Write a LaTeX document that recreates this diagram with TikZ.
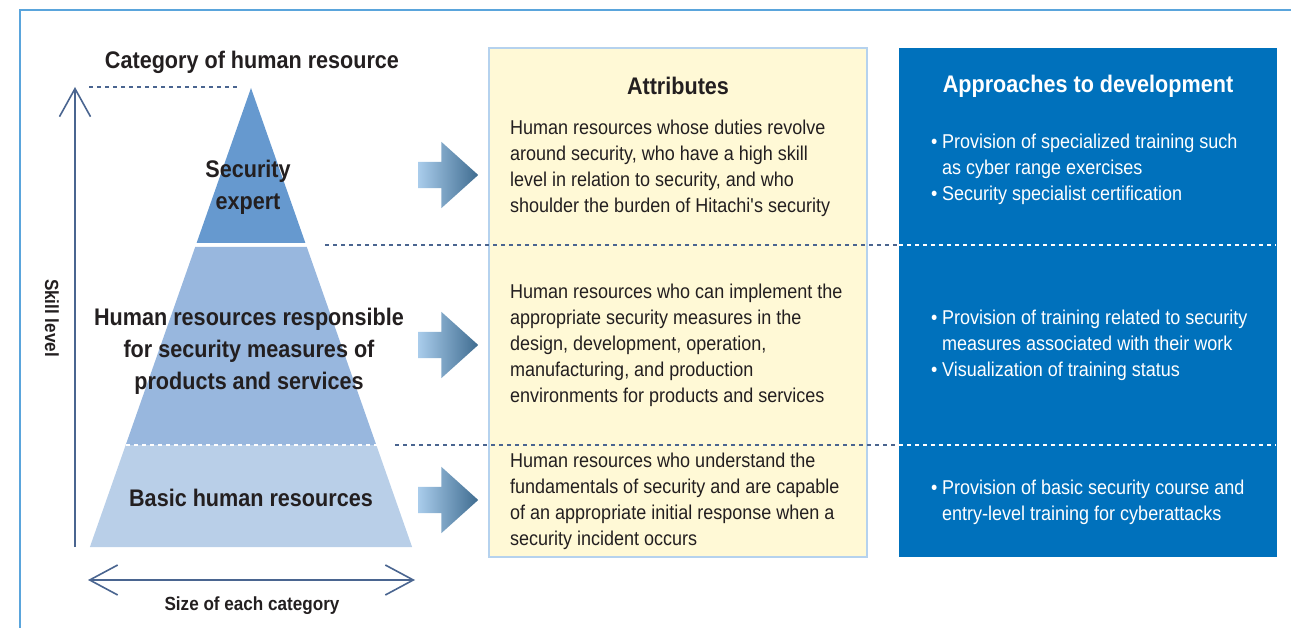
\documentclass[tikz,border=0pt]{standalone}
\usepackage{fontspec}
\setmainfont[FakeStretch=0.9]{Liberation Sans}
\usetikzlibrary{shapes.arrows,arrows.meta}

\definecolor{frameblue}{HTML}{5AA5DC}
\definecolor{tierA}{HTML}{6699CF}
\definecolor{tierB}{HTML}{98B7DE}
\definecolor{tierC}{HTML}{B9CFE8}
\definecolor{paleyellow}{HTML}{FFF9D6}
\definecolor{edgeblue}{HTML}{B5D2EE}
\definecolor{deepblue}{HTML}{0071BC}
\definecolor{linegray}{HTML}{4A6590}
\definecolor{inkdark}{HTML}{231F20}
\definecolor{arrowlight}{HTML}{A9CCEB}
\definecolor{arrowdark}{HTML}{3F6C90}

\newcommand\itembul{\makebox[11pt][l]{\textbullet}}

\tikzset{
  heading/.style={font=\bfseries\fontsize{24}{28}\selectfont, text=inkdark, inner sep=0pt},
  tierlabel/.style={font=\bfseries\fontsize{24}{32}\selectfont, text=inkdark, align=center, inner sep=0pt},
  axislabel/.style={font=\bfseries\fontsize{19}{22}\selectfont, text=inkdark, inner sep=0pt},
  attrtext/.style={font=\fontsize{20}{26}\selectfont, text=inkdark, align=left, anchor=north west, inner sep=0pt},
  approtext/.style={attrtext, text=white},
  attrbox/.style={draw=edgeblue, line width=2pt, fill=paleyellow, minimum width=378pt, minimum height=509pt, inner sep=0pt},
  approbox/.style={fill=deepblue, minimum width=378pt, minimum height=509pt, inner sep=0pt},
  blockarrow/.style={single arrow, left color=arrowlight, right color=arrowdark, draw=none,
    inner xsep=0pt, inner ysep=13pt, minimum height=60pt, anchor=tail,
    single arrow head extend=20pt, single arrow tip angle=84, single arrow head indent=0pt},
  axisline/.style={draw=linegray, line width=1.6pt},
  sepline/.style={draw=linegray, line width=2pt, dash pattern=on 4pt off 4pt},
  sepwhite/.style={sepline, draw=white},
  frameline/.style={draw=frameblue, line width=1.3pt}
}

\begin{document}
\begin{tikzpicture}[x=1pt,y=-1pt]
  \useasboundingbox (0,0) rectangle (1291,628);
  \draw[frameline] (1291,10) -- (20,10) -- (20,628);

  % columns
  \node[attrbox] (attrbox) at (678,302.5) {};
  \node[approbox] (approbox) at (1088,302.5) {};

  % pyramid
  \fill[tierA] (251,88) -- (305.4,243) -- (196.6,243) -- cycle;
  \fill[tierB] (195.2,247) -- (306.8,247) -- (376.3,445) -- (125.7,445) -- cycle;
  \fill[tierC] (125.7,445) -- (376.3,445) -- (412.1,547) -- (89.9,547) -- cycle;
  \draw[sepwhite] (126,445) -- (380,445);

  % separators
  \coordinate (topL) at (89,87);
  \coordinate (topR) at (240,87);
  \coordinate (sepAL) at (325,245);
  \coordinate (sepAM) at (899,245);
  \coordinate (sepAR) at (1276,245);
  \coordinate (sepBL) at (395,445);
  \coordinate (sepBM) at (899,445);
  \coordinate (sepBR) at (1276,445);
  \draw[sepline] (topL) -- (topR);
  \draw[sepline] (sepAL) -- (sepAM);
  \draw[sepwhite] (sepAM) -- (sepAR);
  \draw[sepline] (sepBL) -- (sepBM);
  \draw[sepwhite] (sepBM) -- (sepBR);

  % axes
  \coordinate (skillbase) at (75,547);
  \coordinate (skilltop) at (75,87);
  \coordinate (sizeL) at (88,580);
  \coordinate (sizeR) at (415,580);
  \draw[axisline, -{Straight Barb[length=28pt,width=31pt]}] (skillbase) -- (skilltop);
  \draw[axisline, {Straight Barb[length=28pt,width=30pt]}-{Straight Barb[length=28pt,width=30pt]}] (sizeL) -- (sizeR);
  \node[axislabel, rotate=-90] (skill) at (52,318) {Skill level};
  \node[axislabel] (size) at (252,606) {Size of each category};

  % headings
  \node[heading] (category) at (252,62) {Category of human resource};
  \node[heading] (attrhead) at (678,86) {Attributes};
  \node[heading, text=white] (approhead) at (1088,86) {Approaches to development};

  % tier labels
  \node[tierlabel] (expert) at (248,187) {Security\\expert};
  \node[tierlabel] (responsible) at (249,351) {Human resources responsible\\for security measures of\\products and services};
  \node[tierlabel] (basic) at (251,498) {Basic human resources};

  % arrows
  \node[blockarrow] (arrowA) at (418,175) {};
  \node[blockarrow] (arrowB) at (418,345) {};
  \node[blockarrow] (arrowC) at (418,500) {};

  % attributes
  \node[attrtext] (attrA) at (510,120) {Human resources whose duties revolve\\around security, who have a high skill\\level in relation to security, and who\\shoulder the burden of Hitachi\textquotesingle s security};
  \node[attrtext] (attrB) at (510,284) {Human resources who can implement the\\appropriate security measures in the\\design, development, operation,\\manufacturing, and production\\environments for products and services};
  \node[attrtext] (attrC) at (510,453) {Human resources who understand the\\fundamentals of security and are capable\\of an appropriate initial response when a\\security incident occurs};

  % approaches
  \node[approtext] (approA) at (931,134) {\itembul Provision of specialized training such\\\hspace*{11pt}as cyber range exercises\\\itembul Security specialist certification};
  \node[approtext] (approB) at (931,310) {\itembul Provision of training related to security\\\hspace*{11pt}measures associated with their work\\\itembul Visualization of training status};
  \node[approtext] (approC) at (931,480) {\itembul Provision of basic security course and\\\hspace*{11pt}entry-level training for cyberattacks};
\end{tikzpicture}
\end{document}
